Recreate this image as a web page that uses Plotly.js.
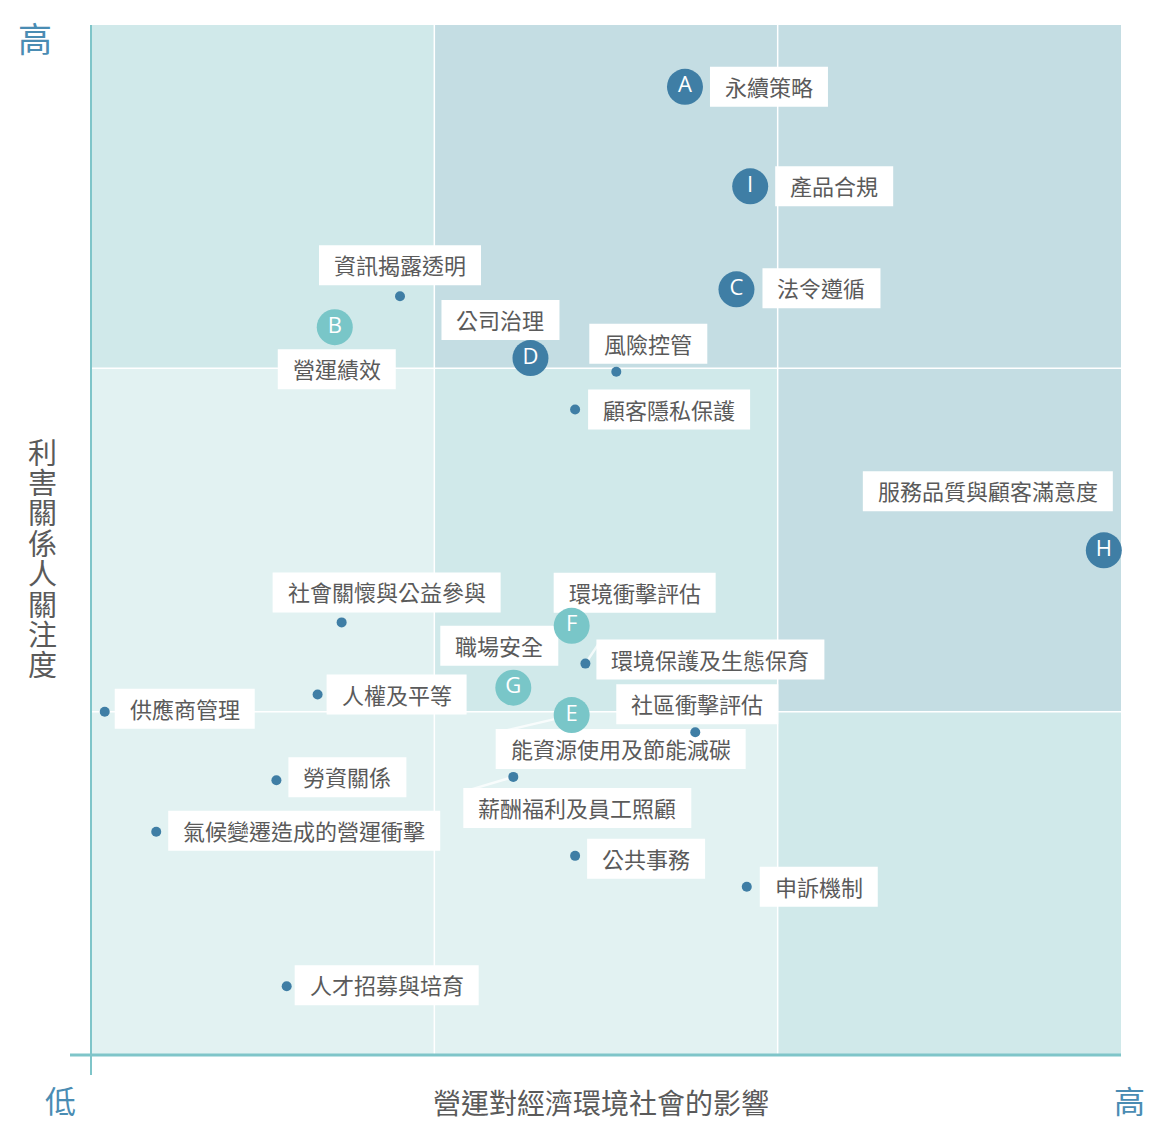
<!DOCTYPE html>
<html>
<head>
<meta charset="utf-8">
<script src="https://cdn.plot.ly/plotly-3.0.1.min.js"></script>
<style>
  html, body { margin: 0; padding: 0; background: #ffffff; }
  #chart { width: 1149px; height: 1122px; }
</style>
</head>
<body>
<div id="chart"></div>
<script>
// ---------------- DATA ----------------
const topics = [
  '永續策略', '產品合規', '法令遵循', '營運績效', '公司治理',
  '服務品質與顧客滿意度', '環境衝擊評估', '職場安全', '能資源使用及節能減碳',
  '資訊揭露透明', '風險控管', '顧客隱私保護', '社會關懷與公益參與',
  '環境保護及生態保育', '人權及平等', '供應商管理', '社區衝擊評估',
  '薪酬福利及員工照顧', '勞資關係', '氣候變遷造成的營運衝擊', '公共事務',
  '申訴機制', '人才招募與培育'
];
// impact on economy / environment / society (x), 0–3 scale
const impact = [
  1.73, 1.92, 1.88, 0.71, 1.28,
  2.95, 1.40, 1.23, 1.40,
  0.90, 1.53, 1.41, 0.73,
  1.44, 0.66, 0.04, 1.76,
  1.23, 0.54, 0.19, 1.41,
  1.91, 0.57
];
// stakeholder concern (y), 0–3 scale
const concern = [
  2.82, 2.53, 2.23, 2.12, 2.03,
  1.47, 1.25, 1.07, 0.99,
  2.21, 1.99, 1.88, 1.26,
  1.14, 1.05, 1.00, 0.94,
  0.81, 0.80, 0.65, 0.58,
  0.49, 0.20
];
const letters = ['A', 'I', 'C', 'B', 'D', 'H', 'F', 'G', 'E',
  '', '', '', '', '', '', '', '', '', '', '', '', '', ''];
// marker kind: 'dark' letter, 'teal' letter, 'dot' small point
const kinds = ['dark', 'dark', 'dark', 'teal', 'dark', 'dark', 'teal', 'teal', 'teal',
  'dot', 'dot', 'dot', 'dot', 'dot', 'dot', 'dot', 'dot', 'dot', 'dot', 'dot', 'dot', 'dot', 'dot'];

const xTitle = '營運對經濟環境社會的影響';
const yTitle = '利害關係人關注度';
const lowLabel = '低';
const highLabel = '高';

// ---------------- STYLE ----------------
const DARK = '#3f7ea5';
const TEAL = '#79c6c8';
const AXIS = '#7fc5c9';
const LABEL_COLOR = '#5a5a5a';
const END_COLOR = '#4a8cb3';
const CJK = '"Noto Sans CJK TC", "Noto Sans CJK SC", sans-serif';
const LFS = 22;   // label font size
const BOX_H = 40; // label box height, px

// label placement relative to its point: [xanchor, yanchor, xshift, yshift] (px, up positive)
const placement = [
  ['left', 'middle', 25, 0], ['left', 'middle', 25, 0], ['left', 'middle', 26, 1],
  ['center', 'top', 2, -22], ['center', 'bottom', -30, 18],
  ['right', 'bottom', 9, 39], ['center', 'bottom', 63, 13], ['center', 'bottom', -14, 22],
  ['center', 'top', 49, -14],
  ['center', 'bottom', 0, 11], ['center', 'bottom', 32, 8], ['left', 'middle', 13, 0],
  ['center', 'bottom', 45, 10], ['left', 'middle', 11, 4], ['left', 'middle', 9, 0],
  ['left', 'middle', 10, 3], ['center', 'bottom', 2, 8], ['center', 'top', 64, -11],
  ['left', 'middle', 12, 3], ['left', 'middle', 12, 1], ['left', 'middle', 12, -3],
  ['left', 'middle', 13, 0], ['left', 'middle', 8, 1]
];
// labels whose faint leader line (to the box's top-left corner) is visible
const withLeader = [8, 13, 17];

// cell background colours, rows from bottom to top, columns left to right
const cellColors = [
  ['#e2f2f2', '#e2f2f2', '#d0e9ea'],
  ['#e2f2f2', '#d0e9ea', '#c4dde3'],
  ['#d0e9ea', '#c4dde3', '#c4dde3']
];

// ---------------- BUILD ----------------
const shapes = [];
for (let r = 0; r < 3; r++) {
  for (let c = 0; c < 3; c++) {
    shapes.push({
      type: 'rect', xref: 'x', yref: 'y', x0: c, x1: c + 1, y0: r, y1: r + 1,
      fillcolor: cellColors[r][c], line: { width: 0 }, layer: 'below'
    });
  }
}
[1, 2].forEach(v => {
  shapes.push({ type: 'line', xref: 'x', yref: 'y', x0: v, x1: v, y0: 0, y1: 3,
    line: { color: '#ffffff', width: 1.5 }, layer: 'below' });
  shapes.push({ type: 'line', xref: 'x', yref: 'y', x0: 0, x1: 3, y0: v, y1: v,
    line: { color: '#ffffff', width: 1.5 }, layer: 'below' });
});

const annotations = [];

function boxOf(t, p) {
  const w = Array.from(t).length * LFS + 30;
  let x0, x1, y0, y1;
  if (p[0] === 'left') { x0 = p[2]; x1 = p[2] + w; }
  else if (p[0] === 'right') { x0 = p[2] - w; x1 = p[2]; }
  else { x0 = p[2] - w / 2; x1 = p[2] + w / 2; }
  if (p[1] === 'middle') { y0 = p[3] - BOX_H / 2; y1 = p[3] + BOX_H / 2; }
  else if (p[1] === 'bottom') { y0 = p[3]; y1 = p[3] + BOX_H; }
  else { y0 = p[3] - BOX_H; y1 = p[3]; }
  return { x0, x1, y0, y1 };
}

// faint leader lines
withLeader.forEach(i => {
  const b = boxOf(topics[i], placement[i]);
  shapes.push({
    type: 'line', xref: 'x', yref: 'y', xsizemode: 'pixel', ysizemode: 'pixel',
    xanchor: impact[i], yanchor: concern[i], x0: 0, y0: 0, x1: b.x0 + 3, y1: b.y1 - 3,
    line: { color: 'rgba(255,255,255,0.75)', width: 2.5 }, layer: 'below'
  });
});

// label boxes (white rects drawn below markers) + text annotations
topics.forEach((t, i) => {
  const b = boxOf(t, placement[i]);
  shapes.push({
    type: 'rect', xref: 'x', yref: 'y',
    xsizemode: 'pixel', ysizemode: 'pixel',
    xanchor: impact[i], yanchor: concern[i],
    x0: b.x0, x1: b.x1, y0: b.y0, y1: b.y1,
    fillcolor: '#ffffff', line: { width: 0 }, layer: 'below'
  });
  annotations.push({
    x: impact[i], y: concern[i], xref: 'x', yref: 'y',
    text: t, showarrow: false, xanchor: 'center', yanchor: 'middle',
    xshift: (b.x0 + b.x1) / 2, yshift: (b.y0 + b.y1) / 2 + 1, borderpad: 0,
    font: { family: CJK, size: LFS, color: LABEL_COLOR }
  });
});

// axis lines
shapes.push({ type: 'line', xref: 'paper', yref: 'paper', x0: 0, x1: 0, y0: -20 / 1030, y1: 1,
  line: { color: AXIS, width: 2 } });
shapes.push({ type: 'line', xref: 'paper', yref: 'paper', x0: -21 / 1030, x1: 1, y0: 0, y1: 0,
  line: { color: AXIS, width: 3 } });

// end labels
annotations.push({ xref: 'paper', yref: 'paper', x: -56 / 1030, y: 1, yshift: -12,
  xanchor: 'center', yanchor: 'middle', text: highLabel, showarrow: false,
  borderpad: 0, font: { family: CJK, size: 34, color: END_COLOR } });
annotations.push({ xref: 'paper', yref: 'paper', x: -31 / 1030, y: 0, yshift: -44,
  xanchor: 'center', yanchor: 'middle', text: lowLabel, showarrow: false,
  borderpad: 0, font: { family: CJK, size: 31, color: END_COLOR } });
annotations.push({ xref: 'paper', yref: 'paper', x: 1 + 8 / 1030, y: 0, yshift: -44,
  xanchor: 'center', yanchor: 'middle', text: highLabel, showarrow: false,
  borderpad: 0, font: { family: CJK, size: 31, color: END_COLOR } });
// x title
annotations.push({ xref: 'paper', yref: 'paper', x: 0.495, y: 0, yshift: -47,
  xanchor: 'center', yanchor: 'middle', text: xTitle, showarrow: false,
  borderpad: 0, font: { family: CJK, size: 28, color: LABEL_COLOR } });
// y title, stacked upright characters
const yChars = Array.from(yTitle);
const yStep = 30.4;
const yMidPx = 557; // centre of the stack, px from top
yChars.forEach((ch, k) => {
  const py = yMidPx + (k - (yChars.length - 1) / 2) * yStep;
  annotations.push({ xref: 'paper', yref: 'paper', x: -49 / 1030, y: (1055 - py) / 1030,
    xanchor: 'center', yanchor: 'middle', text: ch, showarrow: false, borderpad: 0,
    height: 30, font: { family: CJK, size: 29, color: LABEL_COLOR } });
});

const dotIdx = kinds.map((k, i) => k === 'dot' ? i : -1).filter(i => i >= 0);
const letIdx = kinds.map((k, i) => k !== 'dot' ? i : -1).filter(i => i >= 0);

const traces = [
  {
    type: 'scatter', mode: 'markers', hoverinfo: 'skip', cliponaxis: false,
    x: dotIdx.map(i => impact[i]), y: dotIdx.map(i => concern[i]),
    marker: { size: 10, color: DARK, line: { width: 0 } }
  },
  {
    type: 'scatter', mode: 'markers+text', hoverinfo: 'skip', cliponaxis: false,
    x: letIdx.map(i => impact[i]), y: letIdx.map(i => concern[i]),
    text: letIdx.map(i => letters[i]), textposition: 'middle center',
    textfont: { family: '"Open Sans", sans-serif', size: 22, color: '#ffffff' },
    marker: { size: 36, color: letIdx.map(i => kinds[i] === 'teal' ? TEAL : DARK), line: { width: 0 } }
  }
];

const layout = {
  width: 1149, height: 1122,
  margin: { l: 91, r: 28, t: 25, b: 67, pad: 0 },
  paper_bgcolor: '#ffffff', plot_bgcolor: '#ffffff',
  showlegend: false,
  xaxis: { range: [0, 3], showgrid: false, zeroline: false, showticklabels: false,
    showline: false, ticks: '', fixedrange: true },
  yaxis: { range: [0, 3], showgrid: false, zeroline: false, showticklabels: false,
    showline: false, ticks: '', fixedrange: true },
  shapes: shapes,
  annotations: annotations,
  font: { family: CJK }
};

Plotly.newPlot('chart', traces, layout, { displayModeBar: false, staticPlot: true });
</script>
</body>
</html>
